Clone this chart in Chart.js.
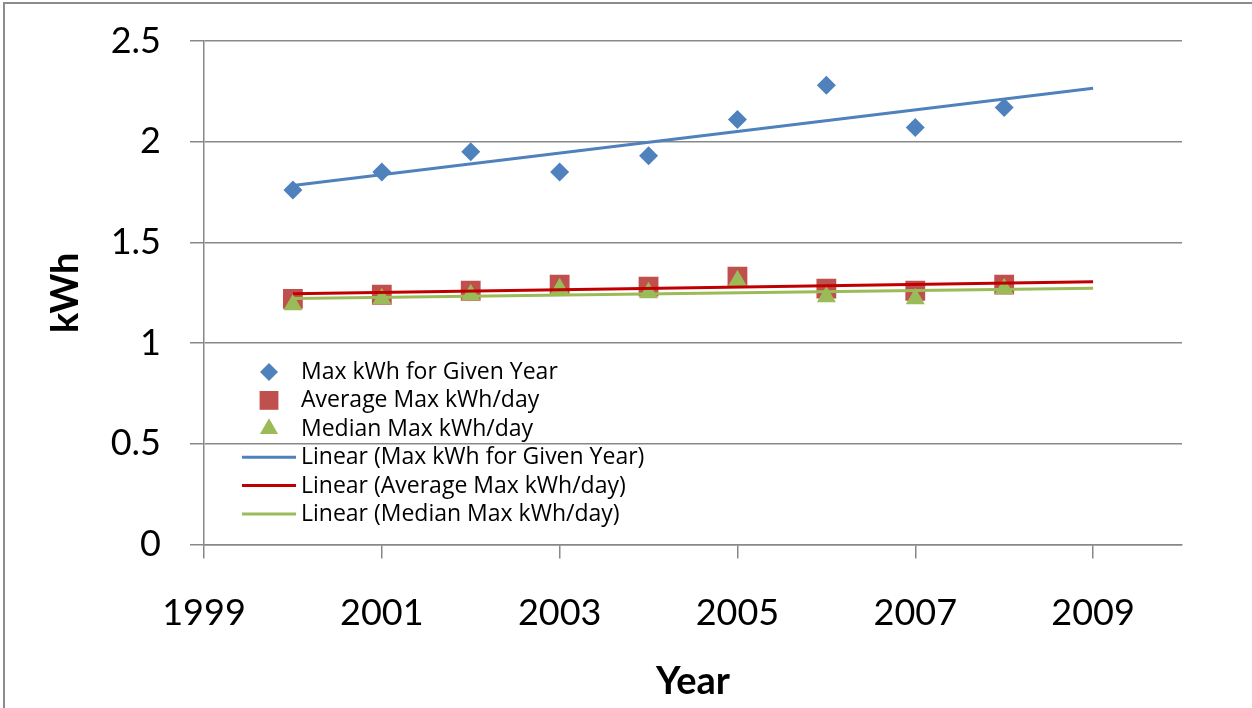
<!DOCTYPE html>
<html>
<head>
<meta charset="utf-8">
<title>kWh by Year</title>
<script src="https://cdn.jsdelivr.net/npm/chart.js@4/dist/chart.umd.min.js"></script>
<style>
  html, body { margin: 0; padding: 0; background: #ffffff; }
  #wrap { position: relative; width: 1252px; height: 708px; overflow: hidden; background: #ffffff; }
  #c { position: absolute; left: 0; top: 0; }
  #frame {
    position: absolute; left: 3px; top: 2px; right: -10px; bottom: -10px;
    border-left: 2px solid #8c8c8c; border-top: 2px solid #8c8c8c;
    pointer-events: none;
  }
</style>
</head>
<body>
<div id="wrap">
  <canvas id="c" width="1252" height="708"></canvas>
  <div id="frame"></div>
</div>
<script>
// Yearly readings
const years = [2000, 2001, 2002, 2003, 2004, 2005, 2006, 2007, 2008];
const maxKwh = [1.76, 1.85, 1.95, 1.85, 1.93, 2.11, 2.28, 2.07, 2.17];
const avgMaxKwh = [1.22, 1.24, 1.26, 1.29, 1.28, 1.33, 1.27, 1.26, 1.29];
const medianMaxKwh = [1.19, 1.22, 1.24, 1.27, 1.25, 1.31, 1.23, 1.22, 1.27];

// Series names
const seriesNames = ['Max kWh for Given Year', 'Average Max kWh/day', 'Median Max kWh/day'];

// Axis ticks
const xTickValues = [1999, 2001, 2003, 2005, 2007, 2009];
const yTickValues = [0, 0.5, 1, 1.5, 2, 2.5];
const trendEndYear = 2009;

// Least-squares line through a series, evaluated from the first year to trendEndYear
function linearTrend(xs, ys) {
  const n = xs.length;
  const mx = xs.reduce((a, b) => a + b, 0) / n;
  const my = ys.reduce((a, b) => a + b, 0) / n;
  let sxy = 0, sxx = 0;
  for (let i = 0; i < n; i++) {
    sxy += (xs[i] - mx) * (ys[i] - my);
    sxx += (xs[i] - mx) * (xs[i] - mx);
  }
  const slope = sxy / sxx;
  const at = x => my + slope * (x - mx);
  return [{ x: xs[0], y: at(xs[0]) }, { x: trendEndYear, y: at(trendEndYear) }];
}

const toPoints = vals => years.map((x, i) => ({ x, y: vals[i] }));

const FONT = 'Lato';
const LEGEND_FONT = '"Open Sans"';

function markerSet(label, values, style, color, radius, order) {
  return {
    label, data: toPoints(values), showLine: false,
    pointStyle: style, pointRadius: radius, pointHoverRadius: radius,
    pointBackgroundColor: color, backgroundColor: color,
    pointBorderWidth: 0, borderColor: color, order
  };
}
function trendSet(label, values, color, order) {
  return {
    label: 'Linear (' + label + ')', data: linearTrend(years, values), showLine: true,
    borderColor: color, borderWidth: 3, pointRadius: 0, pointHoverRadius: 0,
    fill: false, tension: 0, order
  };
}

// Legend drawn inside the plot area
const insideLegend = {
  id: 'insideLegend',
  afterDatasetsDraw(chart, args, o) {
    const ctx = chart.ctx;
    ctx.save();
    chart.data.datasets.forEach((ds, i) => {
      const y = o.top + i * o.rowHeight;
      if (ds.showLine === false) {
        ctx.fillStyle = ds.pointBackgroundColor;
        Chart.helpers.drawPoint(ctx, {
          pointStyle: ds.pointStyle, rotation: 0,
          radius: ds.pointRadius * o.markerScale, borderWidth: 0
        }, o.markerX, y);
      } else {
        ctx.strokeStyle = ds.borderColor;
        ctx.lineWidth = ds.borderWidth;
        ctx.beginPath();
        ctx.moveTo(o.lineX0, y);
        ctx.lineTo(o.lineX1, y);
        ctx.stroke();
      }
      ctx.fillStyle = '#000000';
      ctx.font = o.fontSize + 'px ' + LEGEND_FONT;
      ctx.textAlign = 'left';
      ctx.textBaseline = 'middle';
      ctx.fillText(ds.label, o.textX, y + 0.5);
    });
    ctx.restore();
  }
};

function build() {
  new Chart(document.getElementById('c'), {
    type: 'scatter',
    data: {
      datasets: [
        markerSet(seriesNames[0], maxKwh, 'rectRot', '#4F81BD', 9.5, 5),
        markerSet(seriesNames[1], avgMaxKwh, 'rect', '#C0504D', 14, 4),
        markerSet(seriesNames[2], medianMaxKwh, 'triangle', '#9BBB59', 11, 3),
        trendSet(seriesNames[0], maxKwh, '#4F81BD', 2),
        trendSet(seriesNames[1], avgMaxKwh, '#C00000', 1),
        trendSet(seriesNames[2], medianMaxKwh, '#9BBB59', 0)
      ]
    },
    options: {
      responsive: false,
      devicePixelRatio: 1,
      animation: false,
      events: [],
      layout: { padding: { left: 0, top: 41, right: 70, bottom: 0 } },
      plugins: {
        legend: { display: false },
        tooltip: { enabled: false },
        insideLegend: {
          top: 372, rowHeight: 28.4, markerX: 269, markerScale: 0.95,
          lineX0: 242, lineX1: 296, textX: 301, fontSize: 23
        }
      },
      scales: {
        x: {
          type: 'linear', min: 1999, max: 2010,
          afterBuildTicks: s => { s.ticks = xTickValues.map(v => ({ value: v })); },
          afterFit: s => { s.height = 163.5; s.paddingLeft = 0; s.paddingRight = 0; },
          grid: { drawOnChartArea: false, drawTicks: true, tickLength: 14, color: '#888888', lineWidth: 1.5 },
          border: { display: true, color: '#888888', width: 1.5 },
          ticks: {
            padding: 33, color: '#000000', autoSkip: false, maxRotation: 0,
            font: { family: FONT, size: 36 },
            callback: v => String(v)
          },
          title: {
            display: true, text: 'Year', color: '#000000',
            font: { family: FONT, size: 38, weight: 'bold' },
            padding: { top: 0, bottom: 3 }
          }
        },
        y: {
          type: 'linear', min: 0, max: 2.5,
          afterBuildTicks: s => { s.ticks = yTickValues.map(v => ({ value: v })); },
          afterFit: s => { s.width = 204; s.paddingTop = 0; s.paddingBottom = 0; },
          grid: { color: '#888888', lineWidth: 1.5, tickLength: 14 },
          border: { display: true, color: '#888888', width: 1.5 },
          ticks: {
            padding: 29, color: '#000000',
            font: { family: FONT, size: 36 },
            callback: v => String(v)
          },
          title: {
            display: true, text: 'kWh', color: '#000000',
            font: { family: FONT, size: 38, weight: 'bold' },
            padding: { top: 43, bottom: 0 }
          }
        }
      }
    },
    plugins: [insideLegend]
  });
}

Promise.all([
  document.fonts.load('36px ' + FONT),
  document.fonts.load('bold 38px ' + FONT),
  document.fonts.load('23px ' + LEGEND_FONT)
]).then(build, build);
</script>
</body>
</html>
